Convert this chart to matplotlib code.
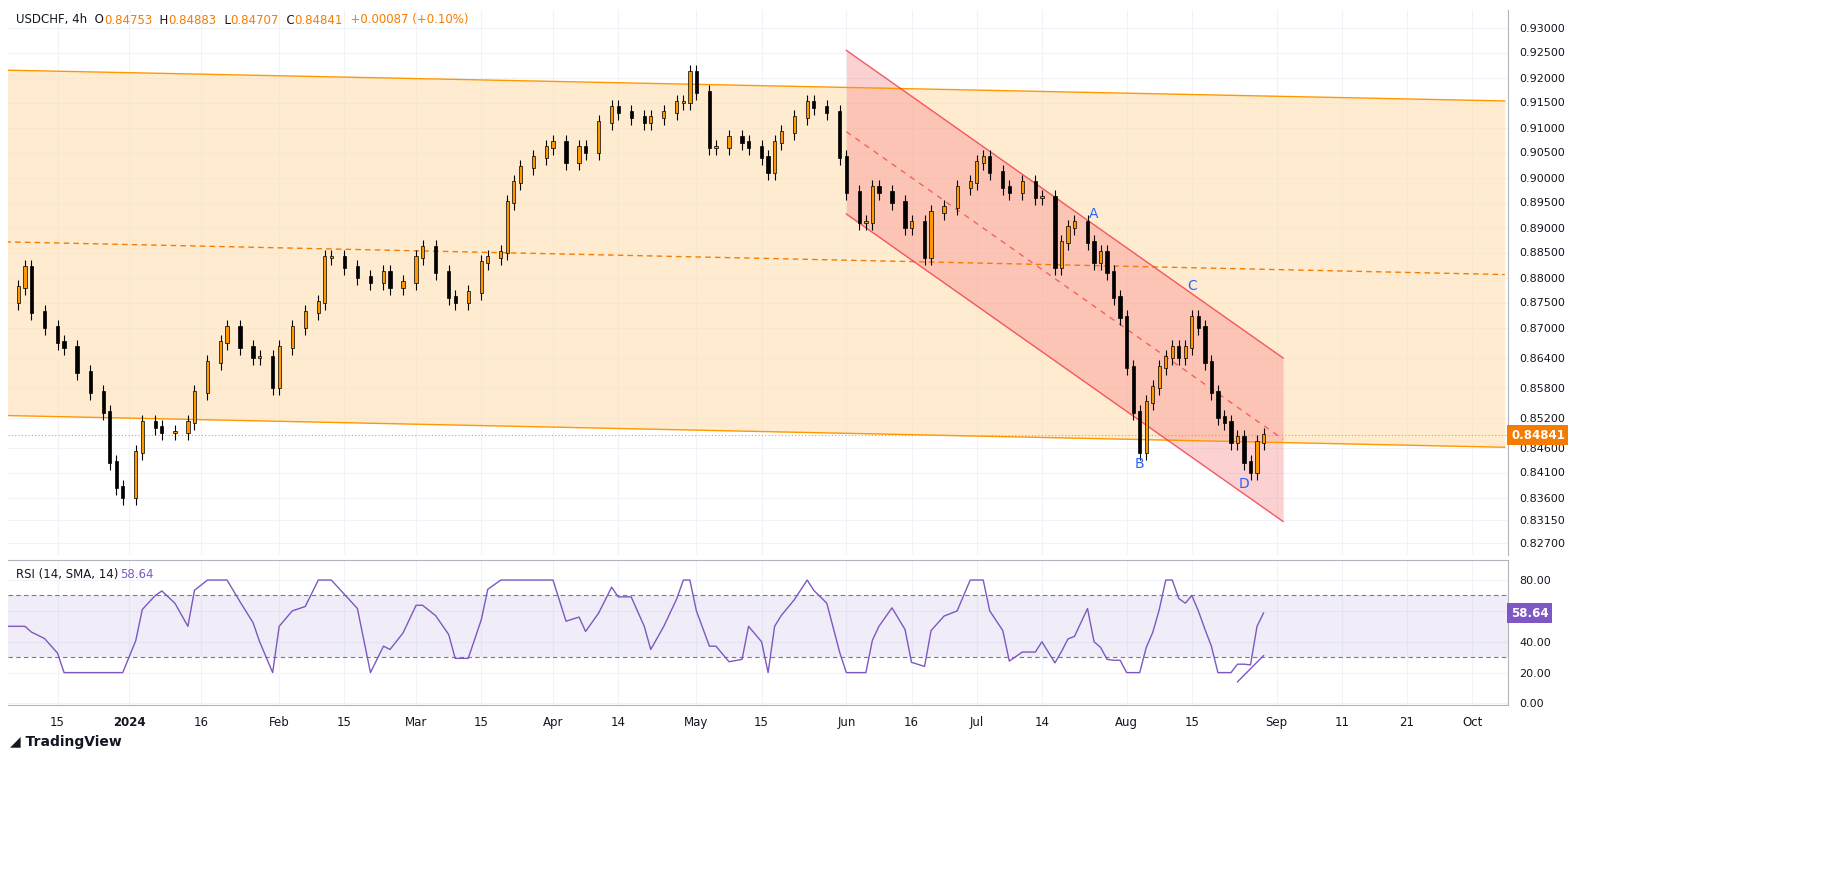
import numpy as np
import pandas as pd
import matplotlib
matplotlib.use("Agg")
import matplotlib.pyplot as plt

# === Datos (cierres diarios aprox.) ===
FECHAS = ["2023-12-05", "2023-12-07", "2023-12-08", "2023-12-11", "2023-12-13", "2023-12-15",
          "2023-12-18", "2023-12-20", "2023-12-22", "2023-12-26", "2023-12-27", "2023-12-28",
          "2023-12-29", "2024-01-02", "2024-01-03", "2024-01-05", "2024-01-08", "2024-01-10",
          "2024-01-12", "2024-01-15", "2024-01-17", "2024-01-19", "2024-01-22", "2024-01-24",
          "2024-01-26", "2024-01-29", "2024-01-31", "2024-02-01", "2024-02-05", "2024-02-07",
          "2024-02-09", "2024-02-12", "2024-02-13", "2024-02-15", "2024-02-19", "2024-02-21",
          "2024-02-23", "2024-02-26", "2024-02-28", "2024-03-01", "2024-03-04", "2024-03-06",
          "2024-03-08", "2024-03-11", "2024-03-13", "2024-03-15", "2024-03-18", "2024-03-20",
          "2024-03-21", "2024-03-22", "2024-03-25", "2024-03-27", "2024-03-29", "2024-04-01",
          "2024-04-03", "2024-04-05", "2024-04-08", "2024-04-10", "2024-04-12", "2024-04-15",
          "2024-04-17", "2024-04-19", "2024-04-22", "2024-04-24", "2024-04-26", "2024-04-29",
          "2024-04-30", "2024-05-01", "2024-05-03", "2024-05-06", "2024-05-08", "2024-05-10",
          "2024-05-13", "2024-05-15", "2024-05-16", "2024-05-17", "2024-05-20", "2024-05-22",
          "2024-05-24", "2024-05-27", "2024-05-29", "2024-05-31", "2024-06-03", "2024-06-05",
          "2024-06-06", "2024-06-07", "2024-06-10", "2024-06-12", "2024-06-14", "2024-06-17",
          "2024-06-19", "2024-06-20", "2024-06-24", "2024-06-26", "2024-06-28", "2024-07-01",
          "2024-07-02", "2024-07-03", "2024-07-05", "2024-07-08", "2024-07-10", "2024-07-12",
          "2024-07-15", "2024-07-17", "2024-07-18", "2024-07-19", "2024-07-22", "2024-07-24",
          "2024-07-25", "2024-07-26", "2024-07-29", "2024-07-30", "2024-07-31", "2024-08-01",
          "2024-08-02", "2024-08-05", "2024-08-06", "2024-08-07", "2024-08-08", "2024-08-09",
          "2024-08-12", "2024-08-13", "2024-08-14", "2024-08-15", "2024-08-16", "2024-08-19",
          "2024-08-20", "2024-08-21", "2024-08-22", "2024-08-23", "2024-08-26", "2024-08-27",
          "2024-08-28", "2024-08-29", "2024-08-30"]
CIERRES = [0.875, 0.878, 0.882, 0.873, 0.870, 0.867,
           0.866, 0.861, 0.857, 0.853, 0.843, 0.838,
           0.836, 0.845, 0.851, 0.850, 0.849, 0.849,
           0.851, 0.857, 0.863, 0.867, 0.870, 0.866,
           0.864, 0.864, 0.858, 0.866, 0.870, 0.873,
           0.875, 0.884, 0.884, 0.882, 0.880, 0.879,
           0.881, 0.878, 0.879, 0.884, 0.886, 0.881,
           0.876, 0.875, 0.877, 0.883, 0.884, 0.885,
           0.895, 0.899, 0.902, 0.904, 0.906, 0.907,
           0.903, 0.906, 0.905, 0.911, 0.914, 0.913,
           0.912, 0.911, 0.912, 0.913, 0.915, 0.915,
           0.921, 0.917, 0.906, 0.906, 0.908, 0.907,
           0.906, 0.904, 0.901, 0.907, 0.909, 0.912,
           0.915, 0.914, 0.913, 0.904, 0.897, 0.891,
           0.891, 0.898, 0.897, 0.895, 0.890, 0.891,
           0.884, 0.893, 0.894, 0.898, 0.899, 0.903,
           0.904, 0.901, 0.898, 0.897, 0.899, 0.896,
           0.896, 0.882, 0.887, 0.890, 0.891, 0.887,
           0.883, 0.885, 0.881, 0.876, 0.872, 0.862,
           0.853, 0.845, 0.855, 0.858, 0.862, 0.864,
           0.866, 0.864, 0.866, 0.872, 0.870, 0.863,
           0.857, 0.852, 0.851, 0.847, 0.848, 0.843,
           0.841, 0.847, 0.84841]

# Canales (fecha, precio) en los extremos
CANAL_NARANJA_SUP = [("2023-12-05", 0.92147), ("2024-10-06", 0.91531)]
CANAL_NARANJA_INF = [("2023-12-05", 0.85240), ("2024-10-06", 0.84605)]
CANAL_NARANJA_MED = [("2023-12-05", 0.88713), ("2024-10-06", 0.88059)]
CANAL_ROJO_SUP = [("2024-06-03", 0.92544), ("2024-09-02", 0.86391)]
CANAL_ROJO_INF = [("2024-06-03", 0.89270), ("2024-09-02", 0.83120)]
CANAL_ROJO_MED = [("2024-06-03", 0.90916), ("2024-09-02", 0.84764)]

ETIQUETAS_ONDAS = [("A", "2024-07-25", 0.8927), ("B", "2024-08-05", 0.8427),
                   ("C", "2024-08-15", 0.8782), ("D", "2024-08-27", 0.8387)]

PRECIO_TICKS = [0.93, 0.925, 0.92, 0.915, 0.91, 0.905, 0.90, 0.895, 0.89, 0.885, 0.88,
                0.875, 0.87, 0.864, 0.858, 0.852, 0.846, 0.841, 0.836, 0.8315, 0.827]
FECHA_TICKS = [("2023-12-15", "15"), ("2024-01-01", "2024"), ("2024-01-16", "16"),
               ("2024-02-01", "Feb"), ("2024-02-15", "15"), ("2024-03-01", "Mar"),
               ("2024-03-15", "15"), ("2024-04-01", "Apr"), ("2024-04-15", "14"),
               ("2024-05-01", "May"), ("2024-05-15", "15"), ("2024-06-03", "Jun"),
               ("2024-06-17", "16"), ("2024-07-01", "Jul"), ("2024-07-15", "14"),
               ("2024-08-01", "Aug"), ("2024-08-15", "15"), ("2024-09-01", "Sep"),
               ("2024-09-11", "11"), ("2024-09-21", "21"), ("2024-10-01", "Oct")]

NARANJA = "#ff9800"
ROJO = "#f23645"
MORADO = "#7e57c2"
AZUL = "#2962ff"
GRIS = "#131722"

# eje x: dias habiles en el pasado, dias calendario en el futuro (como TradingView)
pasado = list(pd.bdate_range("2023-12-05", "2024-08-30"))
futuro = list(pd.date_range("2024-08-31", "2024-10-10"))
pos = {d.strftime("%Y-%m-%d"): i for i, d in enumerate(pasado + futuro)}


def px(fecha):
    return pos[fecha]


x = np.array([px(f) for f in FECHAS])
c = np.array(CIERRES)
o = np.r_[c[0] - 0.001, c[:-1]]
h = np.maximum(o, c) + 0.0015
l = np.minimum(o, c) - 0.0015

# RSI (SMA) sobre cierres diarios, periodo corto para imitar las velas de 4h
delta = np.diff(c, prepend=c[0])
gan = pd.Series(np.clip(delta, 0, None)).rolling(4, min_periods=4).mean()
per = pd.Series(np.clip(-delta, 0, None)).rolling(4, min_periods=4).mean()
rsi = (100 * gan / (gan + per + 1e-9)).fillna(50).values
rsi = 20 + 0.6 * rsi
rsi[-1] = 58.64

fig = plt.figure(figsize=(18.43, 8.90), dpi=100)
ax = fig.add_axes([8 / 1843, 1 - 555 / 890, 1500 / 1843, 545 / 890])
ax2 = fig.add_axes([8 / 1843, 1 - 705 / 890, 1500 / 1843, 145 / 890], sharex=ax)

xmin, xmax = 0.4, px("2024-10-06") + 0.5
ylo, yhi = 0.8245, 0.9335


def linea(pts):
    return [px(p[0]) for p in pts], [p[1] for p in pts]


# canal naranja
xs, ys_sup = linea(CANAL_NARANJA_SUP)
_, ys_inf = linea(CANAL_NARANJA_INF)
ax.fill_between(xs, ys_inf, ys_sup, color="#ffe0b2", alpha=0.6, lw=0, zorder=1)
ax.plot(xs, ys_sup, color=NARANJA, lw=1, zorder=2)
ax.plot(xs, ys_inf, color=NARANJA, lw=1, zorder=2)
xm, ym = linea(CANAL_NARANJA_MED)
ax.plot(xm, ym, color="#f57c00", lw=1, ls=(0, (4, 3)), zorder=2)

# canal rojo
xr, yr_sup = linea(CANAL_ROJO_SUP)
_, yr_inf = linea(CANAL_ROJO_INF)
ax.fill_between(xr, yr_inf, yr_sup, color="#f77c80", alpha=0.35, lw=0, zorder=1)
ax.plot(xr, yr_sup, color=ROJO, lw=1, alpha=0.8, zorder=2)
ax.plot(xr, yr_inf, color=ROJO, lw=1, alpha=0.8, zorder=2)
xrm, yrm = linea(CANAL_ROJO_MED)
ax.plot(xrm, yrm, color=ROJO, lw=1, ls=(0, (4, 4)), alpha=0.7, zorder=2)

# velas
sube = c >= o
ax.vlines(x, l, h, color="black", lw=0.8, zorder=3)
ax.bar(x, np.abs(c - o) + 0.0003, bottom=np.minimum(o, c), width=0.5,
       color=np.where(sube, NARANJA, "black"), edgecolor="black", lw=0.5, zorder=4)

# precio actual
ax.axhline(c[-1], color=NARANJA, lw=0.8, ls=(0, (1, 2)), zorder=2)
ax.text(1.002, c[-1], f"{c[-1]:.5f}", transform=ax.get_yaxis_transform(), fontsize=8.5,
        color="white", weight="bold", va="center", ha="left", zorder=10,
        bbox=dict(boxstyle="square,pad=0.3", fc="#f57c00", ec="none"))

for nombre, f, p in ETIQUETAS_ONDAS:
    ax.text(px(f), p, nombre, color=AZUL, fontsize=10, ha="center", va="center", zorder=5)

ax.set_xlim(xmin, xmax)
ax.set_ylim(ylo, yhi)
ax.yaxis.tick_right()
ax.set_yticks(PRECIO_TICKS)
ax.set_yticklabels([f"{t:.5f}" for t in PRECIO_TICKS])
ax.tick_params(axis="y", labelsize=8, colors=GRIS, length=0, pad=8)
ax.tick_params(axis="x", bottom=False, labelbottom=False)
ax.set_xticks([px(f) for f, _ in FECHA_TICKS])
ax.grid(color="#f0f3fa", lw=0.8, zorder=0)
for s in ["top", "left", "bottom"]:
    ax.spines[s].set_visible(False)
ax.spines["right"].set_color("#b2b5be")
ax.set_axisbelow(True)

titulo = [("USDCHF, 4h  O", GRIS), ("0.84753", "#f57c00"), ("  H", GRIS), ("0.84883", "#f57c00"),
          ("  L", GRIS), ("0.84707", "#f57c00"), ("  C", GRIS), ("0.84841", "#f57c00"),
          ("  +0.00087 (+0.10%)", "#f57c00")]
tx = 16 / 1843
for txt, col in titulo:
    t = fig.text(tx, 1 - 20 / 890, txt, color=col, fontsize=8.5, va="center")
    fig.canvas.draw()
    tx += t.get_window_extent().width / 1843

# RSI
ax2.axhspan(30, 70, color="#7e57c2", alpha=0.1, lw=0)
ax2.axhline(70, color="#787b86", lw=0.8, ls=(0, (4, 3)))
ax2.axhline(30, color="#787b86", lw=0.8, ls=(0, (4, 3)))
ax2.plot(x, rsi, color=MORADO, lw=1)
ax2.plot([px("2024-08-26"), px("2024-08-30")], [14, 31], color=MORADO, lw=1)
ax2.set_ylim(-1, 93)
ax2.yaxis.tick_right()
ax2.set_yticks([0, 20, 40, 60, 80])
ax2.set_yticklabels([f"{v:.2f}" for v in [0, 20, 40, 60, 80]])
ax2.tick_params(axis="y", labelsize=8, colors=GRIS, length=0, pad=8)
ax2.set_xticks([px(f) for f, _ in FECHA_TICKS])
ax2.set_xticklabels([e for _, e in FECHA_TICKS])
ax2.tick_params(axis="x", labelsize=8.5, colors=GRIS, length=0, pad=8)
for lab in ax2.get_xticklabels():
    if lab.get_text() == "2024":
        lab.set_fontweight("bold")
ax2.grid(color="#f0f3fa", lw=0.8)
ax2.set_axisbelow(True)
for s in ["left", "bottom"]:
    ax2.spines[s].set_visible(False)
ax2.spines["top"].set_color("#b2b5be")
ax2.spines["right"].set_color("#b2b5be")
ax2.text(1.002, rsi[-1], f"{rsi[-1]:.2f}", transform=ax2.get_yaxis_transform(), fontsize=8.5,
         color="white", weight="bold", va="center", ha="left", zorder=10,
         bbox=dict(boxstyle="square,pad=0.3", fc=MORADO, ec="none"))
ax2.text(0.005, 0.9, "RSI (14, SMA, 14)", transform=ax2.transAxes, fontsize=8.5, color=GRIS, va="center")
ax2.text(0.075, 0.9, "58.64", transform=ax2.transAxes, fontsize=8.5, color=MORADO, va="center")

fig.text(10 / 1843, 1 - 742 / 890, "\u25e2 TradingView", fontsize=10, color=GRIS, weight="bold", va="center")
fig.add_artist(plt.Line2D([8 / 1843, 1508 / 1843], [1 - 705 / 890] * 2, color="#b2b5be", lw=0.8))

fig.savefig("out.png", dpi=100, facecolor="white")
